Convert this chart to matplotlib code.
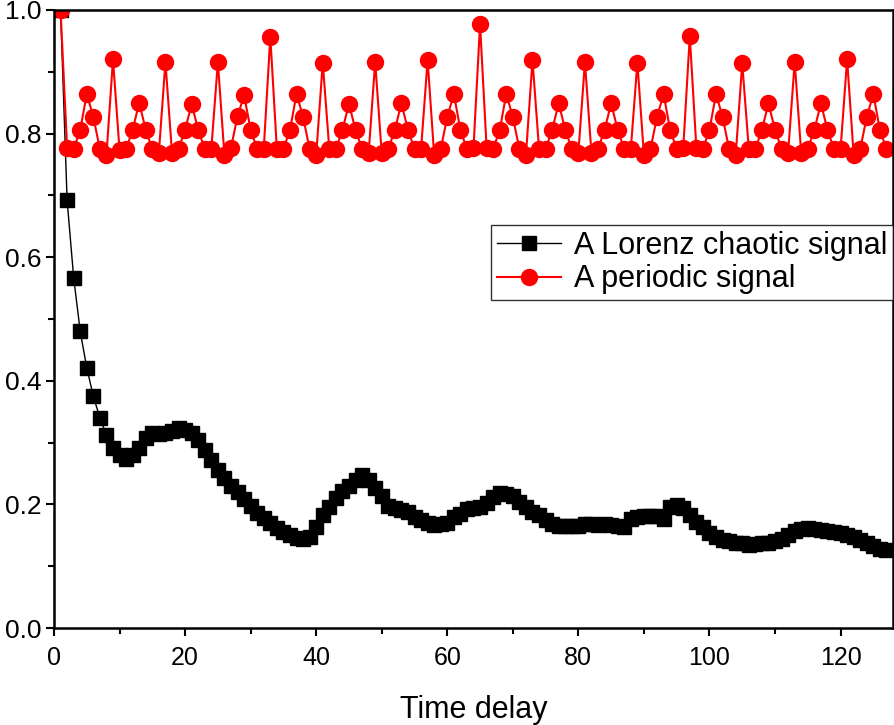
import matplotlib

matplotlib.use("Agg")

import matplotlib.pyplot as plt
import numpy as np
from matplotlib.ticker import MultipleLocator

plt.rcParams["font.family"] = ["Liberation Sans", "DejaVu Sans"]

time_delay = np.arange(1, 128)

lorenz = [
    1.000, 0.692, 0.567, 0.480, 0.421, 0.375, 0.340, 0.312, 0.291, 0.280,
    0.274, 0.280, 0.292, 0.307, 0.315, 0.314, 0.316, 0.318, 0.323, 0.321,
    0.316, 0.305, 0.288, 0.272, 0.256, 0.243, 0.230, 0.220, 0.208, 0.198,
    0.186, 0.178, 0.170, 0.162, 0.156, 0.151, 0.145, 0.144, 0.148, 0.164,
    0.183, 0.196, 0.210, 0.221, 0.229, 0.240, 0.247, 0.240, 0.227, 0.213,
    0.198, 0.194, 0.191, 0.188, 0.180, 0.175, 0.170, 0.167, 0.168, 0.170,
    0.180, 0.185, 0.192, 0.194, 0.196, 0.202, 0.212, 0.218, 0.217, 0.213,
    0.204, 0.196, 0.188, 0.183, 0.175, 0.168, 0.165, 0.165, 0.165, 0.165,
    0.168, 0.168, 0.167, 0.168, 0.167, 0.165, 0.163, 0.176, 0.180, 0.181,
    0.181, 0.182, 0.176, 0.195, 0.199, 0.194, 0.183, 0.172, 0.164, 0.154,
    0.148, 0.143, 0.140, 0.138, 0.137, 0.134, 0.136, 0.137, 0.138, 0.140,
    0.144, 0.151, 0.157, 0.161, 0.162, 0.161, 0.159, 0.157, 0.156, 0.154,
    0.151, 0.148, 0.143, 0.138, 0.132, 0.128, 0.126,
]

periodic = [
    1.000, 0.777, 0.775, 0.806, 0.864, 0.827, 0.775, 0.765, 0.920, 0.773,
    0.775, 0.806, 0.850, 0.806, 0.775, 0.769, 0.916, 0.769, 0.775, 0.806,
    0.848, 0.806, 0.775, 0.775, 0.916, 0.765, 0.777, 0.828, 0.862, 0.806,
    0.775, 0.775, 0.957, 0.775, 0.775, 0.806, 0.864, 0.827, 0.775, 0.765,
    0.915, 0.775, 0.775, 0.806, 0.848, 0.806, 0.775, 0.768, 0.916, 0.768,
    0.775, 0.806, 0.849, 0.806, 0.775, 0.775, 0.919, 0.765, 0.775, 0.827,
    0.864, 0.806, 0.775, 0.777, 0.977, 0.777, 0.775, 0.806, 0.864, 0.827,
    0.775, 0.765, 0.919, 0.775, 0.775, 0.806, 0.849, 0.806, 0.775, 0.769,
    0.916, 0.768, 0.775, 0.806, 0.849, 0.806, 0.775, 0.775, 0.915, 0.765,
    0.775, 0.827, 0.864, 0.806, 0.775, 0.777, 0.958, 0.777, 0.775, 0.806,
    0.864, 0.827, 0.775, 0.765, 0.914, 0.775, 0.775, 0.806, 0.849, 0.806,
    0.775, 0.769, 0.916, 0.768, 0.775, 0.806, 0.849, 0.806, 0.775, 0.775,
    0.920, 0.765, 0.775, 0.827, 0.864, 0.806, 0.775,
]

fig = plt.figure(figsize=(8.95, 7.25), dpi=100)
ax = fig.add_axes([54 / 895, 1 - 628 / 725, 839 / 895, 618 / 725])

ax.plot(time_delay, lorenz, color="black", lw=1.0, marker="s", ms=9.5,
        label="A Lorenz chaotic signal")
ax.plot(time_delay, periodic, color="red", lw=1.5, marker="o", ms=11.5,
        label="A periodic signal")

ax.set_xlim(0, 128)
ax.set_ylim(0, 1.0)
ax.xaxis.set_major_locator(MultipleLocator(20))
ax.xaxis.set_minor_locator(MultipleLocator(10))
ax.yaxis.set_major_locator(MultipleLocator(0.2))
ax.yaxis.set_minor_locator(MultipleLocator(0.1))
ax.yaxis.set_major_formatter(matplotlib.ticker.FormatStrFormatter("%.1f"))

ax.tick_params(which="major", direction="out", length=6, width=1.5, labelsize=18)
ax.tick_params(axis="x", which="major", pad=7)
ax.tick_params(axis="y", which="major", labelsize=19, pad=3)
ax.tick_params(which="minor", direction="out", length=4, width=1.5)
for spine in ax.spines.values():
    spine.set_linewidth(1.8)

ax.set_xlabel("Time delay", fontsize=22, labelpad=18)

leg = ax.legend(loc="upper right", bbox_to_anchor=(1.0, 0.652), fontsize=22,
                frameon=True, fancybox=False, edgecolor="black",
                handlelength=2.1, borderpad=0.2, labelspacing=0.1,
                handletextpad=0.4, borderaxespad=0)
leg.get_frame().set_linewidth(1.0)

fig.savefig("out.png", dpi=100)
